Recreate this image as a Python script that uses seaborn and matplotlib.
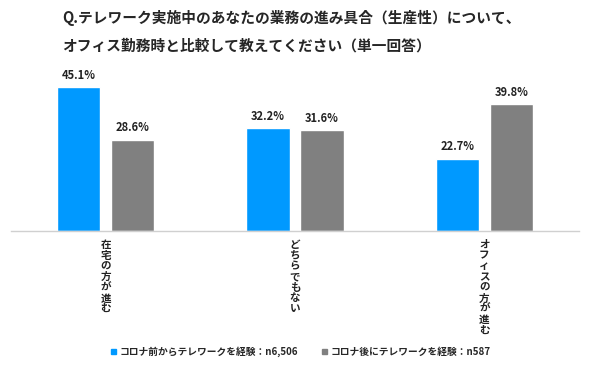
import pandas as pd
import matplotlib.pyplot as plt
import seaborn as sns
from matplotlib.patches import Patch
from matplotlib.transforms import offset_copy

categories = ['在宅の方が進む', 'どちらでもない', 'オフィスの方が進む']
series = ['コロナ前からテレワークを経験：n6,506', 'コロナ後にテレワークを経験：n587']
before_vals = [45.1, 32.2, 22.7]
after_vals = [28.6, 31.6, 39.8]
colors = ['#0099FF', '#808080']

df = pd.DataFrame({
    'category': categories * 2,
    'series': [series[0]] * 3 + [series[1]] * 3,
    'value': before_vals + after_vals,
})

sns.set_style('white')
plt.rcParams['font.family'] = ['Noto Sans CJK JP', 'DejaVu Sans']

fig = plt.figure(figsize=(5.91, 3.67), dpi=100)
ax = fig.add_axes([11 / 591, 1 - 231 / 367, 568 / 591, 161 / 367])

sns.barplot(data=df, x='category', y='value', hue='series', order=categories,
            hue_order=series, palette=colors, width=0.57, gap=0.2,
            saturation=1, legend=False, ax=ax)

for cont in ax.containers:
    ax.bar_label(cont, labels=[f'{v:.1f}%' for v in cont.datavalues],
                 padding=4, fontsize=8, fontweight='bold', color='#222222')

ax.set_xlim(-0.5, 2.5)
ax.set_ylim(0, 50.5)
ax.set_yticks([])
ax.set_xticks([])
ax.set_xlabel('')
ax.set_ylabel('')
for s in ['top', 'right', 'left']:
    ax.spines[s].set_visible(False)
ax.spines['bottom'].set_color('#d0d0d0')
ax.spines['bottom'].set_linewidth(1)

# vertical (stacked, upright) category labels, one character per row
for i, cat in enumerate(categories):
    for j, ch in enumerate(cat):
        tr = offset_copy(ax.get_xaxis_transform(), fig=fig, x=0, y=-(14 + j * 10.7), units='dots')
        ax.text(i, 0, ch, transform=tr, ha='center', va='center',
                fontsize=7.6, fontweight='bold', color='#222222')

fig.text(62 / 591, 1 - 18 / 367, 'Q.テレワーク実施中のあなたの業務の進み具合（生産性）について、',
         fontsize=10.6, fontweight='bold', va='center', ha='left')
fig.text(62 / 591, 1 - 46 / 367, 'オフィス勤務時と比較して教えてください（単一回答）',
         fontsize=10.6, fontweight='bold', va='center', ha='left')

handles = [Patch(color=c, label=s) for c, s in zip(colors, series)]
leg = fig.legend(handles=handles, loc='center', bbox_to_anchor=(301 / 591, 1 - 352 / 367),
                 ncol=2, frameon=False, handlelength=0.5, handleheight=0.5,
                 handletextpad=0.35, columnspacing=2.5,
                 prop={'size': 7, 'weight': 'bold'})

fig.savefig('out.png', dpi=100)
